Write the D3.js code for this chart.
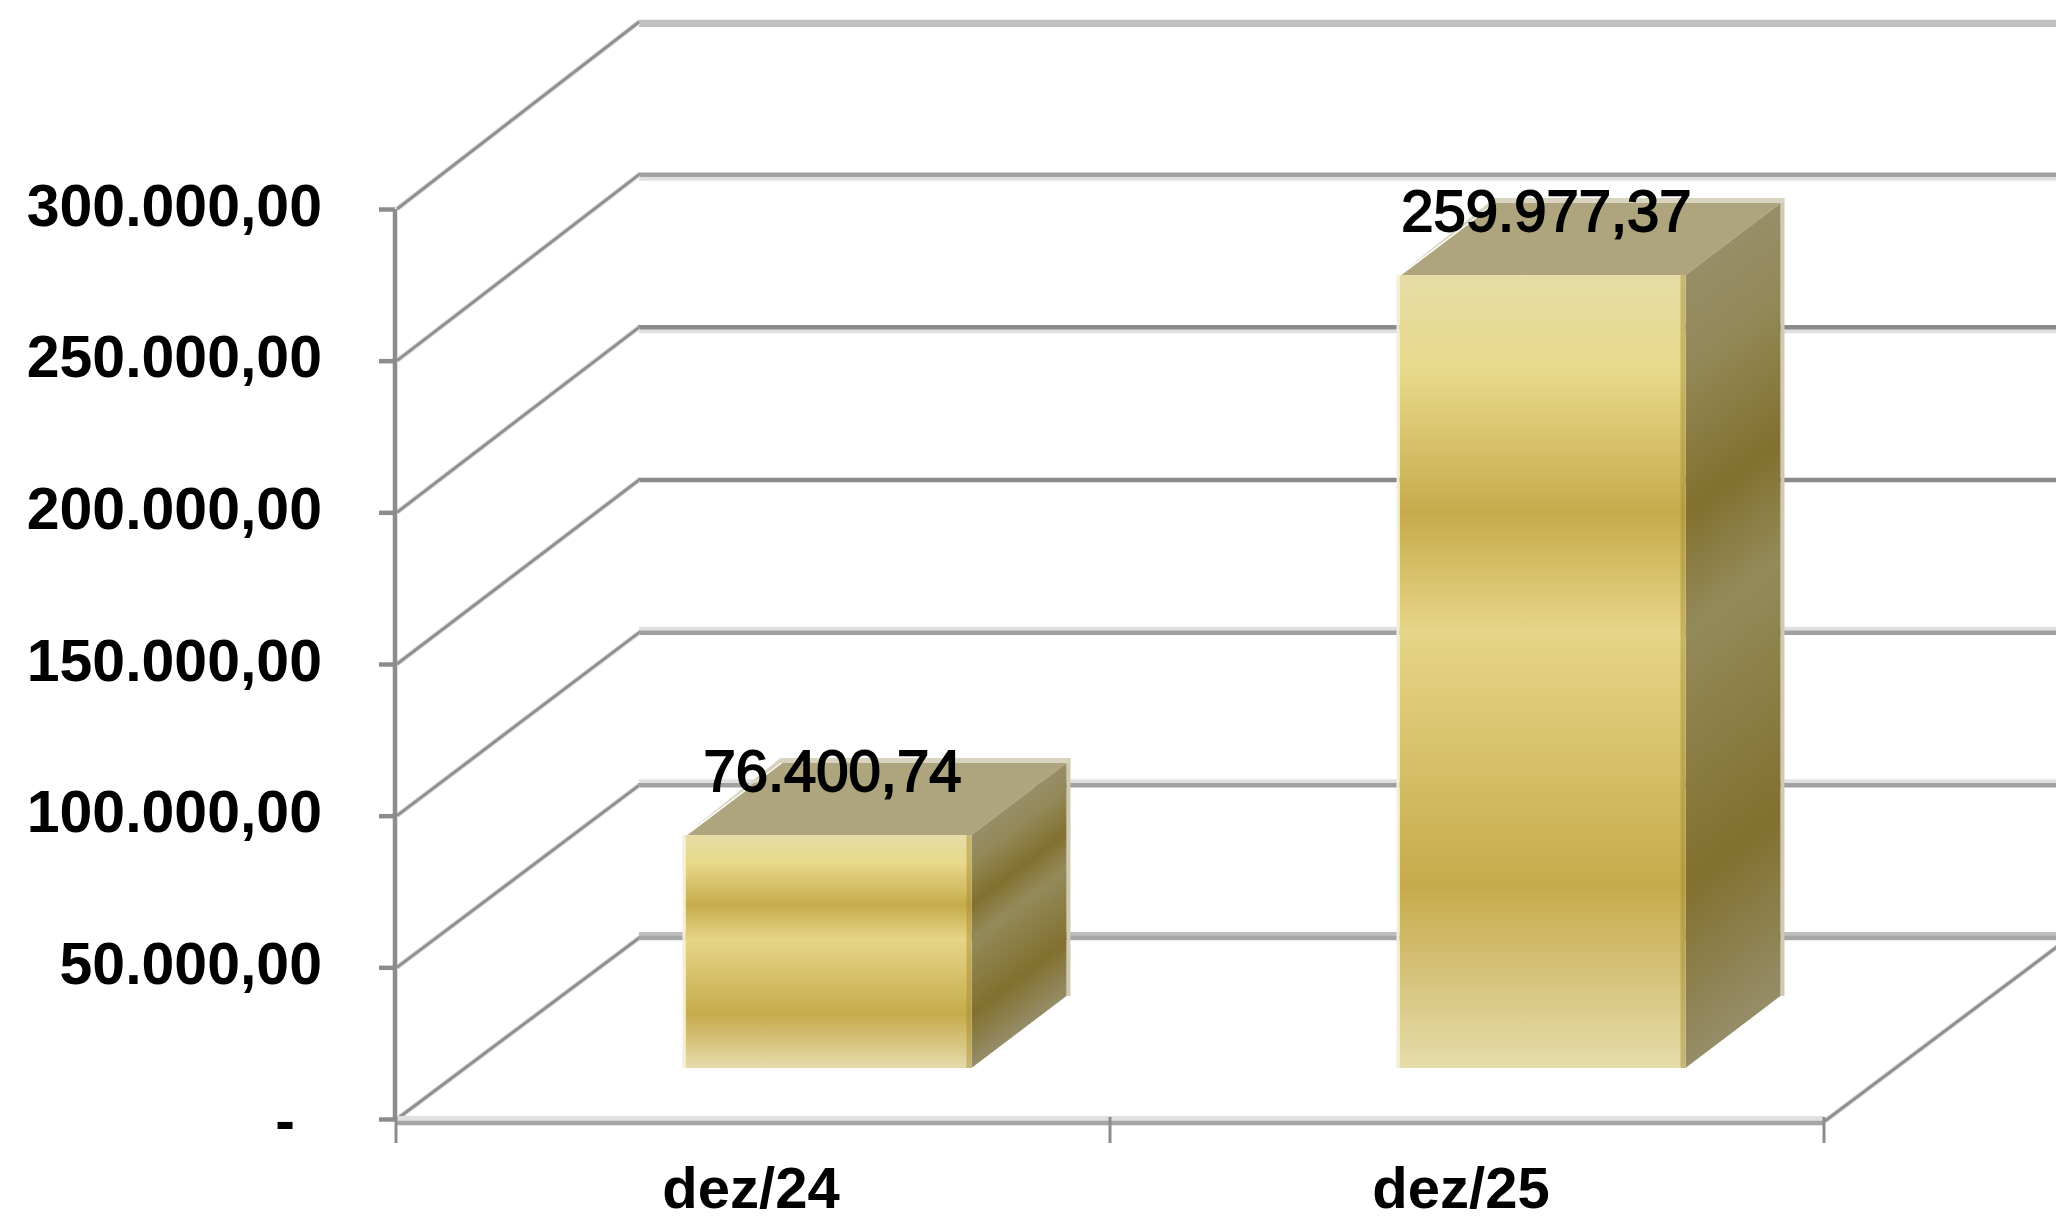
<!DOCTYPE html>
<html>
<head>
<meta charset="utf-8">
<script src="https://cdnjs.cloudflare.com/ajax/libs/d3/7.8.5/d3.min.js"></script>
<style>
html,body{margin:0;padding:0;background:#fff;overflow:hidden}
svg{display:block}
text{font-family:"Liberation Sans",Arial,sans-serif;fill:#000}
</style>
</head>
<body>
<div id="chart"></div>
<script>
const categories = ["dez/24", "dez/25"];
const values = [76400.74, 259977.37];
const valueLabels = ["76.400,74", "259.977,37"];
const tickValues = [0, 50000, 100000, 150000, 200000, 250000, 300000];
const tickLabels = ["-", "50.000,00", "100.000,00", "150.000,00", "200.000,00", "250.000,00", "300.000,00"];

const W = 2056, H = 1216;
const svgRoot = d3.select("#chart").append("svg").attr("width", W).attr("height", H);
const defs = svgRoot.append("defs");
defs.append("filter").attr("id", "soft").attr("x", 0).attr("y", 0).attr("width", 1).attr("height", 1)
  .attr("filterUnits", "objectBoundingBox")
  .append("feGaussianBlur").attr("stdDeviation", 0.6);
const svg = svgRoot.append("g").attr("filter", "url(#soft)");
svg.append("rect").attr("width", W).attr("height", H).attr("fill", "#fff");

const yFront = d3.scaleLinear().domain([0, 300000]).range([1119, 209]);
const yBack = d3.scaleLinear().domain([0, 300000]).range([938, 22]);
const yBar = d3.scaleLinear().domain([0, 300000]).range([1068, 153]);
const x = d3.scaleBand().domain(categories).range([396, 1824]);
const xLeft = 397, xRight = 1824, backShift = 242;
const barDX = 95, barDY = 72;
const barStart = 0.4055, barWidth = 0.4005;

function gradient(id, stops) {
  const g = defs.append("linearGradient").attr("id", id).attr("x1", 0).attr("y1", 0).attr("x2", 0).attr("y2", 1);
  stops.forEach(s => g.append("stop").attr("offset", s[0]).attr("stop-color", s[1]));
}
gradient("front", [[0, "#e6dca6"], [0.12, "#e8d98a"], [0.30, "#c6ab4c"], [0.45, "#e6d587"], [0.77, "#c6ab4c"], [1, "#e6dcaa"]]);
gradient("side", [[0, "#978e68"], [0.12, "#938857"], [0.30, "#82702f"], [0.45, "#948a5a"], [0.77, "#82702f"], [1, "#968d68"]]);

// back wall gridlines: dark line + soft band from the upscaled source
const gridStyle = {
  0: ["#a6a6a6", "#bdbdbd", -4], 50000: ["#a0a0a0", "#e0e0e0", -4], 100000: ["#a0a0a0", "#e0e0e0", -4],
  150000: ["#8a8a8a", "#ffffff", 4], 200000: ["#8a8a8a", "#e0e0e0", 4], 250000: ["#a0a0a0", "#e0e0e0", 4],
  300000: ["#c0c0c0", "#c0c0c0", 3]
};
const grid = svg.append("g");
tickValues.forEach(v => {
  const [dark, light, off] = gridStyle[v];
  const y = yBack(v);
  grid.append("line").attr("x1", xLeft + backShift).attr("x2", W).attr("y1", y + off).attr("y2", y + off)
    .attr("stroke", light).attr("stroke-width", 4);
  grid.append("line").attr("x1", xLeft + backShift - 1).attr("x2", W).attr("y1", y).attr("y2", y)
    .attr("stroke", dark).attr("stroke-width", 4.5);
  grid.append("line").attr("x1", xLeft).attr("x2", xLeft + backShift).attr("y1", yFront(v)).attr("y2", y)
    .attr("stroke", "#dedede").attr("stroke-width", 5);
  grid.append("line").attr("x1", xLeft).attr("x2", xLeft + backShift).attr("y1", yFront(v)).attr("y2", y)
    .attr("stroke", "#909090").attr("stroke-width", 3);
});

// floor
svg.append("line").attr("x1", xRight + 1).attr("y1", yFront(0) + 2).attr("x2", xRight + backShift).attr("y2", yBack(0) + 2)
  .attr("stroke", "#dedede").attr("stroke-width", 5);
svg.append("line").attr("x1", xRight + 1).attr("y1", yFront(0) + 2).attr("x2", xRight + backShift).attr("y2", yBack(0) + 2)
  .attr("stroke", "#909090").attr("stroke-width", 3);
svg.append("line").attr("x1", xLeft).attr("x2", xRight).attr("y1", yFront(0) - 0.5).attr("y2", yFront(0) - 0.5)
  .attr("stroke", "#e0e0e0").attr("stroke-width", 5);
svg.append("line").attr("x1", xLeft).attr("x2", xRight).attr("y1", yFront(0) + 4).attr("y2", yFront(0) + 4)
  .attr("stroke", "#a5a5a5").attr("stroke-width", 4.5);

// bars
const bars = svg.append("g").selectAll("g").data(values).join("g");
bars.each(function (v, i) {
  const g = d3.select(this);
  const band = x.bandwidth();
  const x0 = x(categories[i]) + band * barStart;
  const w = band * barWidth;
  const yTop = yBar(v), yBase = yBar(0);
  const h = yBase - yTop;
  const angle = Math.atan2(barDY, barDX) * 180 / Math.PI;

  // light halo edges
  g.append("rect").attr("x", x0 + w + barDX).attr("y", yTop - barDY - 4).attr("width", 4).attr("height", h + 4)
    .attr("fill", "#cfcab0");
  g.append("path").attr("fill", "#d8d4c0")
    .attr("d", `M${x0 + barDX * 0.02},${yTop - 2} L${x0 + barDX},${yTop - barDY - 5} L${x0 + w + barDX + 4},${yTop - barDY - 5} L${x0 + w + barDX + 4},${yTop - barDY} L${x0 + barDX},${yTop - barDY} Z`);
  // top
  g.append("path").attr("fill", "#aea57e")
    .attr("d", `M${x0 + 2},${yTop} L${x0 + barDX + 2},${yTop - barDY} L${x0 + w + barDX},${yTop - barDY} L${x0 + w},${yTop} Z`);
  // side (skewed so the bands run along the depth direction)
  g.append("rect")
    .attr("transform", `translate(${x0 + w},${yTop}) skewY(${-angle})`)
    .attr("width", barDX).attr("height", h).attr("fill", "url(#side)");
  // front
  g.append("rect").attr("x", x0).attr("y", yTop).attr("width", w).attr("height", h).attr("fill", "url(#front)");
  g.append("rect").attr("x", x0 + w - 5).attr("y", yTop).attr("width", 5).attr("height", h)
    .attr("fill", "#a08a30").attr("opacity", 0.45);
  g.append("rect").attr("x", x0 - 3).attr("y", yTop).attr("width", 3).attr("height", h)
    .attr("fill", "#f3eed8");
});

// value labels
svg.append("g").selectAll("text").data(values).join("text")
  .attr("x", (v, i) => x(categories[i]) + x.bandwidth() * 0.6 + 8)
  .attr("y", v => yBar(v) - 44)
  .attr("text-anchor", "middle")
  .style("font-size", "58px")
  .style("stroke", "#000").style("stroke-width", "1.8px")
  .text((v, i) => valueLabels[i]);

// y axis
const axisY = d3.axisLeft(yFront).tickValues(tickValues)
  .tickSize(16).tickPadding(0)
  .tickFormat(v => tickLabels[tickValues.indexOf(v)]);
const gy = svg.append("g").attr("transform", "translate(395,0)").call(axisY);
gy.select(".domain").attr("stroke", "#8c8c8c").attr("stroke-width", 4.5).attr("d", `M0,${yFront(300000)}V${yFront(0)}`);
gy.selectAll(".tick line").attr("stroke", "#8c8c8c").attr("stroke-width", 4.5);
gy.selectAll(".tick text")
  .attr("x", v => v === 0 ? -100 : -73)
  .attr("dy", null).attr("y", v => v === 0 ? 21 : 16)
  .attr("text-anchor", "end")
  .style("font-size", "59px").style("font-weight", "bold");

// x axis
const axisX = d3.axisBottom(x).tickSize(0).tickPadding(0);
const gx = svg.append("g").attr("transform", "translate(0,1122)").call(axisX);
gx.select(".domain").remove();
gx.selectAll(".tick text")
  .attr("dy", null).attr("y", 86).attr("dx", (d, i) => i === 0 ? -2 : -6)
  .style("font-size", "58px").style("font-weight", "bold");
// separators between categories
const seps = [x(categories[0]), x(categories[1]), x(categories[1]) + x.bandwidth()];
svg.append("g").selectAll("line").data(seps).join("line")
  .attr("x1", d => d).attr("x2", d => d)
  .attr("y1", 1117).attr("y2", 1143)
  .attr("stroke", "#8c8c8c").attr("stroke-width", 3);
</script>
</body>
</html>
